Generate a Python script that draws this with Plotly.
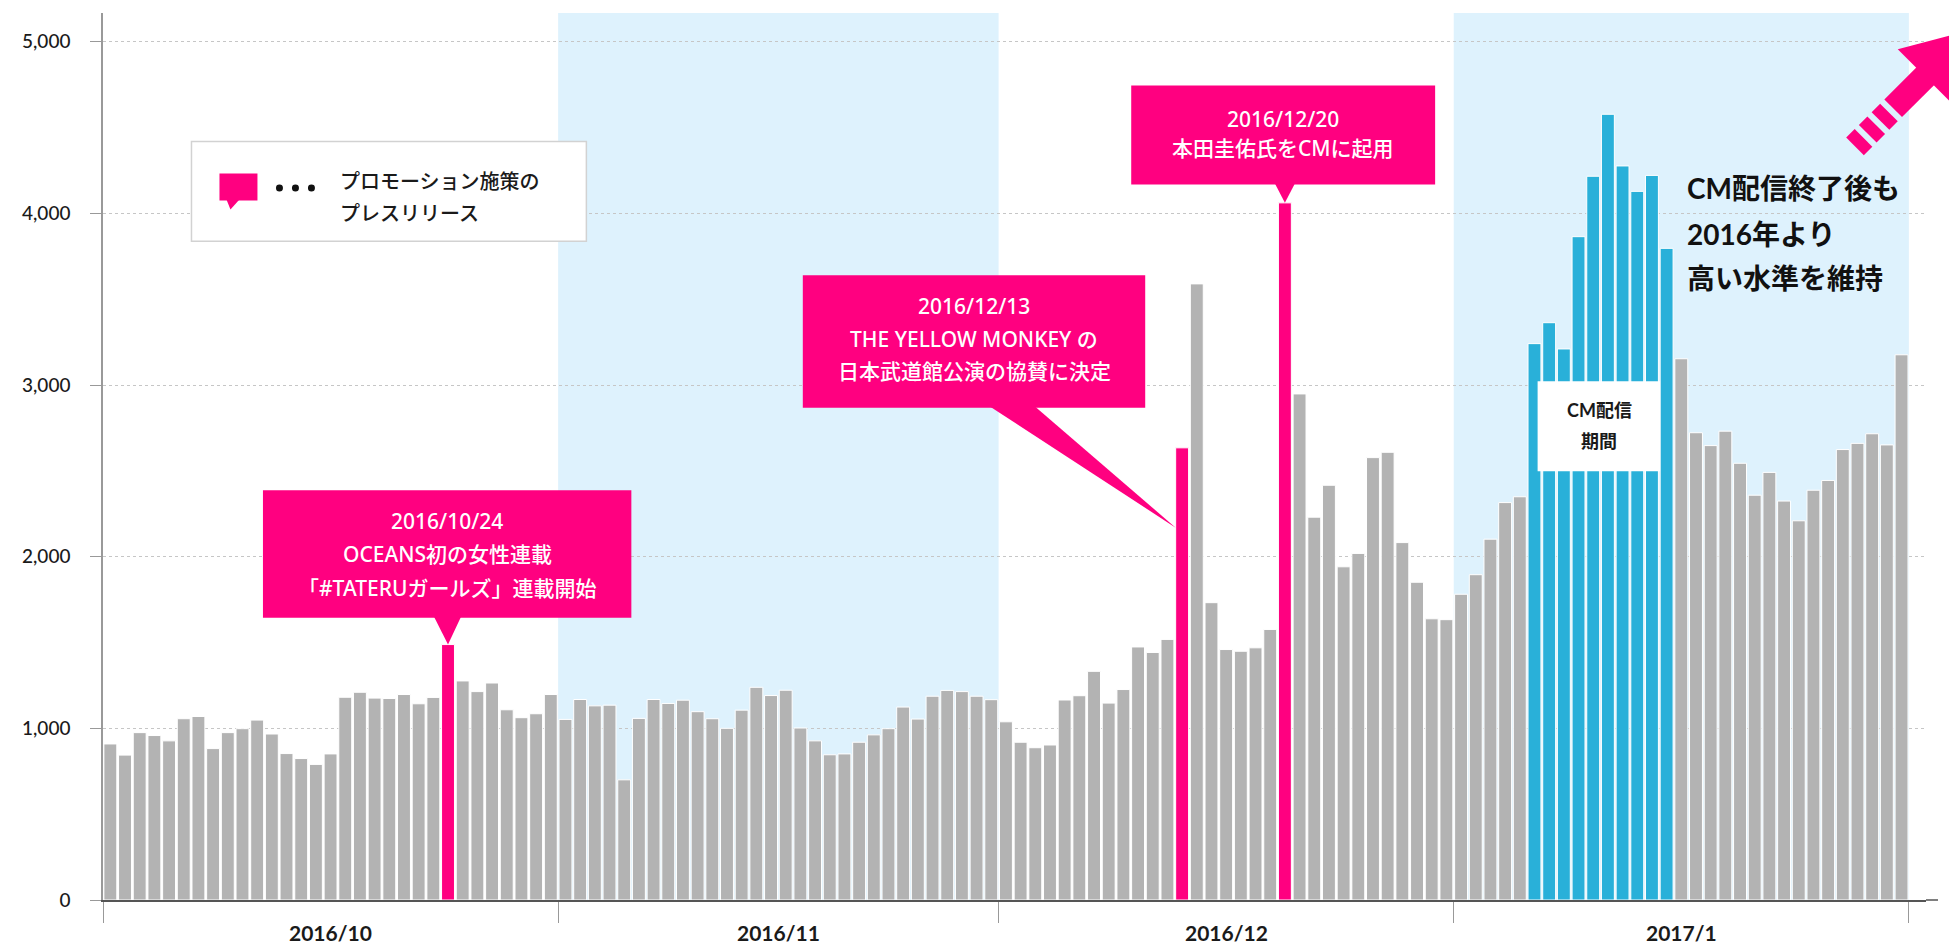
import math
import pandas as pd
import plotly.graph_objects as go

# ---------------- data ----------------
oct_vals = [909, 844, 975, 958, 927, 1056, 1069, 882, 975, 998, 1048, 967, 853, 824, 790, 851,
            1181, 1210, 1176, 1174, 1197, 1143, 1180, 1488, 1276, 1214, 1264, 1108, 1062, 1085, 1197]
nov_vals = [1052, 1168, 1131, 1135, 700, 1058, 1168, 1145, 1164, 1097, 1056, 1000, 1106, 1239, 1191,
            1222, 1002, 927, 846, 851, 919, 962, 998, 1124, 1054, 1187, 1221, 1214, 1187, 1167]
dec_vals = [1038, 919, 887, 903, 1165, 1190, 1332, 1147, 1226, 1474, 1442, 1518, 2634, 3589, 1732,
            1459, 1449, 1469, 1576, 4061, 2948, 2230, 2416, 1941, 2019, 2577, 2608, 2082, 1851, 1638, 1633]
jan_vals = [1781, 1895, 2102, 2315, 2349, 3241, 3363, 3210, 3864, 4216, 4577, 4276, 4128, 4221, 3796,
            3153, 2722, 2647, 2731, 2544, 2358, 2491, 2324, 2209, 2387, 2444, 2624, 2660, 2716, 2651, 3176]

start_date = "2016-10-01"
month_starts = ["2016-10-01", "2016-11-01", "2016-12-01", "2017-01-01", "2017-02-01"]
month_labels = ["2016/10", "2016/11", "2016/12", "2017/1"]
event_dates = ["2016-10-24", "2016-12-13", "2016-12-20"]
event_lines = [
    ["2016/10/24", "OCEANS初の女性連載", "「#TATERUガールズ」連載開始"],
    ["2016/12/13", "THE YELLOW MONKEY の", "日本武道館公演の協賛に決定"],
    ["2016/12/20", "本田圭佑氏をCMに起用"],
]
cm_start, cm_end = "2017-01-06", "2017-01-15"
shaded_months = [("2016-11-01", "2016-12-01"), ("2017-01-01", "2017-02-01")]
y_ticks = [0, 1000, 2000, 3000, 4000, 5000]
legend_lines = ["プロモーション施策の", "プレスリリース"]
note_lines = ["CM配信終了後も", "2016年より", "高い水準を維持"]
cm_box_lines = ["CM配信", "期間"]

values = oct_vals + nov_vals + dec_vals + jan_vals
days = pd.date_range(start_date, periods=len(values), freq="D")
x_mid = days + pd.Timedelta(hours=12)

GRAY, PINK, BLUE, SHADE = "#b3b3b3", "#ff0080", "#29b0d9", "#def2fd"
ev_ts = [pd.Timestamp(d) for d in event_dates]
colors = []
for d in days:
    if d in ev_ts:
        colors.append(PINK)
    elif pd.Timestamp(cm_start) <= d <= pd.Timestamp(cm_end):
        colors.append(BLUE)
    else:
        colors.append(GRAY)
val_of = dict(zip(days, values))

# ---------------- geometry (page pixels; the page body has an 8px margin) ----------------
OFF = 8
FW, FH = 1957 - 2 * OFF, 950 - OFF
PL, PR, PT, PB = 102.5, 1926, 12.5, 900       # plot area in page pixels
ML, MT = PL - OFF, PT - OFF
MR, MB = FW - (PR - OFF), FH - (PB - OFF)
PW, PH = PR - PL, PB - PT
X0 = pd.Timestamp("2016-10-01")
X1 = pd.Timestamp("2017-02-02 04:00")
YMAX = 5167
BARGAP = 0.12
span_days = (X1 - X0).total_seconds() / 86400


def dx(ts):
    return PL + (pd.Timestamp(ts) - X0).total_seconds() / 86400 / span_days * PW


def vy(v):
    return PB - v / YMAX * PH


def px(x):
    return (x - PL) / PW


def py(y):
    return (PB - y) / PH


def path(points):
    return "M " + " L ".join(f"{px(x):.5f},{py(y):.5f}" for x, y in points) + " Z"


shapes = []
annotations = []


def rect(x0, y0, x1, y1, fill, line_color=None, lw=0, layer="above"):
    shapes.append(dict(type="rect", xref="paper", yref="paper",
                       x0=px(x0), x1=px(x1), y0=py(y1), y1=py(y0),
                       fillcolor=fill, line=dict(color=line_color or fill, width=lw), layer=layer))


def poly(points, fill):
    shapes.append(dict(type="path", xref="paper", yref="paper", path=path(points),
                       fillcolor=fill, line=dict(width=0), layer="above"))


LAT = "Lato, Noto Sans CJK JP, sans-serif"
NOTO = "Noto Sans, Noto Sans CJK JP, sans-serif"


def text(x, y, s, size, color, weight="normal", anchor="center", family=LAT):
    annotations.append(dict(x=px(x), y=py(y), xref="paper", yref="paper", text=s,
                            showarrow=False, xanchor=anchor, yanchor="middle",
                            font=dict(size=size, color=color, family=family, weight=weight)))


# month shading
for a, b in shaded_months:
    shapes.append(dict(type="rect", xref="x", yref="paper", x0=a, x1=b, y0=0, y1=1,
                       fillcolor=SHADE, line=dict(width=0), layer="below"))

# month labels centred in each month
for a, b, lab in zip(month_starts[:-1], month_starts[1:], month_labels):
    mid = pd.Timestamp(a) + (pd.Timestamp(b) - pd.Timestamp(a)) / 2
    annotations.append(dict(x=mid, xref="x", y=py(933), yref="paper", text=lab,
                            showarrow=False, xanchor="center", yanchor="middle",
                            font=dict(size=21, color="#1a1a1a", family=LAT, weight="bold")))

# x-axis line extension beyond the plot
shapes.append(dict(type="line", xref="paper", yref="paper", x0=1, x1=px(1938), y0=0, y1=0,
                   line=dict(color="#555", width=1.5), layer="above"))

# ---- callout 1 (10/24)
t1 = pd.Timestamp(event_dates[0]) + pd.Timedelta(hours=12)
tip1 = (dx(t1), vy(val_of[pd.Timestamp(event_dates[0])]))
b1 = (262.5, 490, 631, 617.5)
rect(*b1, PINK)
poly([(tip1[0] - 14, b1[3] - 1), (tip1[0] + 13, b1[3] - 1), tip1], PINK)
for i, s in enumerate(event_lines[0]):
    text((b1[0] + b1[2]) / 2, [521, 554, 587.5][i], s, 21, "white", 500, family=NOTO)

# ---- callout 2 (12/13)
t2 = pd.Timestamp(event_dates[1]) + pd.Timedelta(hours=24 * BARGAP / 2)
tip2 = (dx(t2), vy(2169))
b2 = (802.5, 275, 1145, 407.5)
rect(*b2, PINK)
poly([(990, b2[3] - 1), (1035, b2[3] - 1), tip2], PINK)
for i, s in enumerate(event_lines[1]):
    text((b2[0] + b2[2]) / 2, [306, 339, 371][i], s, 21, "white", 500, family=NOTO)

# ---- callout 3 (12/20)
t3 = pd.Timestamp(event_dates[2]) + pd.Timedelta(hours=12)
tip3 = (dx(t3), vy(val_of[pd.Timestamp(event_dates[2])]))
b3 = (1131, 85, 1435, 184)
rect(*b3, PINK)
poly([(tip3[0] - 10, b3[3] - 1), (tip3[0] + 10, b3[3] - 1), tip3], PINK)
for i, s in enumerate(event_lines[2]):
    text((b3[0] + b3[2]) / 2, [119, 147.5][i], s, 21, "white", 500, family=NOTO)

# ---- legend box
rect(191, 141, 586, 241, "white", "#d2d2d2", 1.5)
rect(219, 173, 257, 200, PINK)
poly([(226, 199), (239, 199), (230, 209)], PINK)
for cx in [279, 295, 311]:
    shapes.append(dict(type="circle", xref="paper", yref="paper",
                       x0=px(cx - 3.5), x1=px(cx + 3.5), y0=py(191), y1=py(184),
                       fillcolor="#111", line=dict(width=0), layer="above"))
for i, s in enumerate(legend_lines):
    text(337.5, [181, 212.5][i], s, 20, "#1a1a1a", 500, anchor="left")

# ---- CM period label box
rect(1537.5, 381, 1660, 471, "white")
for i, s in enumerate(cm_box_lines):
    text(1599, [410, 441][i], s, 18, "#1a1a1a", "bold")

# ---- right note
for i, s in enumerate(note_lines):
    text(1685, [187.5, 234, 277.5][i], s, 28, "#111", "bold", anchor="left")

# ---- arrow
d = (1 / math.sqrt(2), -1 / math.sqrt(2))
n = (1 / math.sqrt(2), 1 / math.sqrt(2))
C = (1925, 76)
w, H, Lh = 12.5, 38.5, 66


def P(s, off):
    return (C[0] - s * d[0] + off * n[0], C[1] - s * d[1] + off * n[1])


tip = (C[0] + Lh * d[0], C[1] + Lh * d[1])
poly([P(0, -H), tip, P(0, H)], PINK)
for s0, s1 in [(-2, 45), (51, 63), (69, 81), (87, 99)]:
    poly([P(s0, -w), P(s0, w), P(s1, w), P(s1, -w)], PINK)

# ---------------- figure ----------------
fig = go.Figure(go.Bar(
    x=x_mid, y=values,
    marker=dict(color=colors, line=dict(color="white", width=1)),
    hoverinfo="skip",
))

fig.update_layout(
    width=FW, height=FH,
    margin=dict(l=ML, r=MR, t=MT, b=MB, pad=0),
    paper_bgcolor="white", plot_bgcolor="white",
    showlegend=False, bargap=BARGAP,
    shapes=shapes, annotations=annotations,
    font=dict(family=LAT, color="#222"),
)
fig.update_xaxes(
    type="date", range=[X0, X1], automargin=False,
    showline=True, linecolor="#555", linewidth=1.5,
    ticks="outside", ticklen=21, tickwidth=1, tickcolor="#999",
    dtick="M1", tick0=start_date, showticklabels=False,
    showgrid=False, zeroline=False,
)
fig.update_yaxes(
    range=[0, YMAX], tickvals=y_ticks, tickformat=",d", automargin=False,
    showgrid=True, gridcolor="#c6c6c6", griddash="3px,3px", gridwidth=1,
    showline=True, linecolor="#999", linewidth=1.5,
    ticks="outside", ticklen=11, tickwidth=1, tickcolor="#999",
    zeroline=False, ticklabelstandoff=16,
    tickfont=dict(size=19, color="#1a1a1a", weight=500),
)

fig.write_html("out.html")
